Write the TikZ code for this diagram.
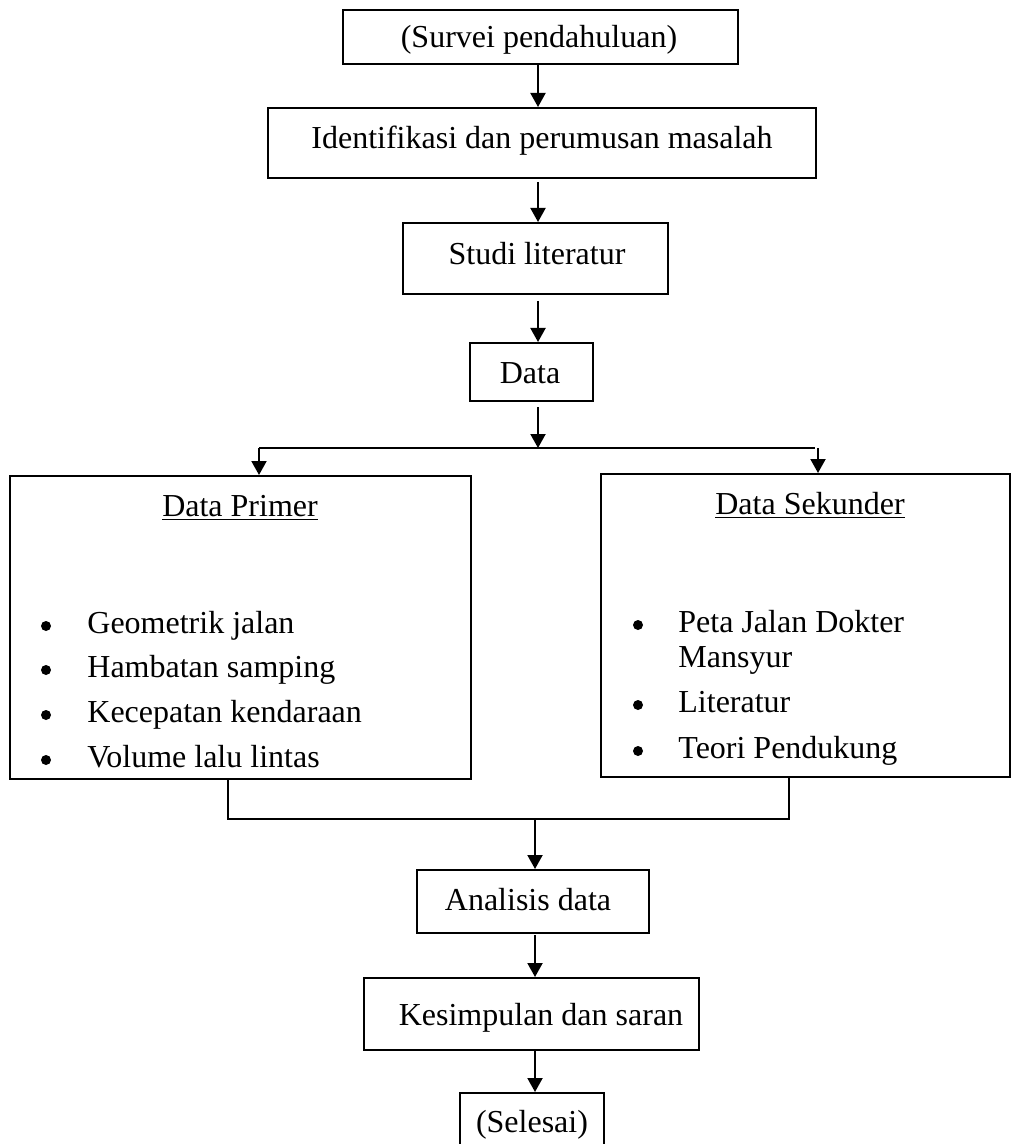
\documentclass[tikz,border=0pt]{standalone}
\usepackage{fontspec}
\setmainfont{Liberation Serif}
\usetikzlibrary{arrows.meta}
\tikzset{
  box/.style={draw, line width=1pt, rectangle, inner sep=0pt},
  txt/.style={font=\fontsize{16pt}{19pt}\selectfont, inner sep=0pt, anchor=base},
  txtl/.style={txt, anchor=base west},
  bul/.style={circle, fill, inner sep=0pt, minimum size=5pt},
  arr/.style={line width=1pt, -{Triangle[length=7pt,width=7.5pt]}},
  ln/.style={line width=1pt},
}
\begin{document}
\begin{tikzpicture}[x=0.5pt,y=-0.5pt]
\useasboundingbox (0,0) rectangle (1012,1144);
\clip (0,0) rectangle (1012,1144);
% boxes
\node[box, minimum width=197.5pt, minimum height=27pt] (b1) at (540.5,37) {};
\node[box, minimum width=274pt, minimum height=35pt] (b2) at (542,143) {};
\node[box, minimum width=132.5pt, minimum height=35.5pt] (b3) at (535.5,258.5) {};
\node[box, minimum width=61.5pt, minimum height=29pt] (b4) at (531.5,372) {};
\node[box, minimum width=230.5pt, minimum height=151.5pt] (primer) at (240.5,627.5) {};
\node[box, minimum width=204.5pt, minimum height=151.5pt] (sek) at (805.5,625.5) {};
\node[box, minimum width=116pt, minimum height=31.5pt] (ana) at (533,901.5) {};
\node[box, minimum width=167.5pt, minimum height=36pt] (kes) at (531.5,1014) {};
\node[box, minimum width=72pt, minimum height=35pt] (sel) at (532,1128) {};
% texts
\node[txt] (t1) at (539,48) {(Survei pendahuluan)};
\node[txt] (t2) at (542,149) {Identifikasi dan perumusan masalah};
\node[txt] (t3) at (537,265) {Studi literatur};
\node[txt] (t4) at (530,383) {Data};
\node[txt] (tp) at (240,516) {\underline{Data Primer}};
\node[txt] (ts) at (810,514) {\underline{Data Sekunder}};
\node[bul] (pb1) at (46,626) {};
\node[txtl] (p1) at (87,633) {Geometrik jalan};
\node[bul] (pb2) at (46,670) {};
\node[txtl] (p2) at (87,677) {Hambatan samping};
\node[bul] (pb3) at (46,715) {};
\node[txtl] (p3) at (87,722) {Kecepatan kendaraan};
\node[bul] (pb4) at (46,760) {};
\node[txtl] (p4) at (87,767) {Volume lalu lintas};
\node[bul] (sb1) at (638,625) {};
\node[txtl] (s1) at (678,632) {Peta Jalan Dokter};
\node[txtl] (s1b) at (678,667) {Mansyur};
\node[bul] (sb2) at (638,705) {};
\node[txtl] (s2) at (678,712) {Literatur};
\node[bul] (sb3) at (638,751) {};
\node[txtl] (s3) at (678,758) {Teori Pendukung};
\node[txt] (ta) at (528,910) {Analisis data};
\node[txt] (tk) at (541,1025) {Kesimpulan dan saran};
\node[txt] (tsel) at (532,1132) {(Selesai)};
% connectors
\coordinate (a1) at (538,64);
\draw[arr] (a1) -- (a1 |- b2.north);
\coordinate (a2) at (538,182);
\draw[arr] (a2) -- (a2 |- b3.north);
\coordinate (a3) at (538,301);
\draw[arr] (a3) -- (a3 |- b4.north);
\coordinate (a4) at (538,407);
\coordinate (br) at (538,448);
\draw[arr] (a4) -- (br);
\coordinate (pl) at (259,448);
\coordinate (pr) at (818,448);
\draw[line width=0.8pt] (pl) -- (815,448);
\draw[arr] (pl) -- (pl |- primer.north);
\draw[arr] (pr) -- (pr |- sek.north);
\coordinate (ml) at (228,819);
\coordinate (mr) at (789,819);
\coordinate (mm) at (535,819);
\draw[ln] (ml |- primer.south) -- (ml) -- (mr) -- (mr |- sek.south);
\draw[arr] (mm) -- (mm |- ana.north);
\coordinate (a6) at (535,935);
\draw[arr] (a6) -- (a6 |- kes.north);
\coordinate (a7) at (535,1050);
\draw[arr] (a7) -- (a7 |- sel.north);
\end{tikzpicture}
\end{document}
